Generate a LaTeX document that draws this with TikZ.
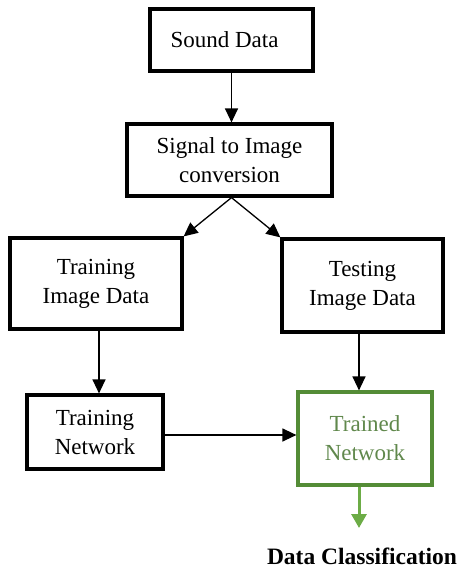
\documentclass[tikz,border=0pt]{standalone}
\usepackage{fontspec}
\setmainfont{Liberation Serif}
\usetikzlibrary{arrows.meta,calc}
\definecolor{boxgreen}{RGB}{84,140,54}
\definecolor{txtgreen}{RGB}{96,136,76}
\definecolor{arrgreen}{RGB}{108,172,70}
\begin{document}
\begin{tikzpicture}[x=1pt,y=-1pt,
  box/.style={draw=black,line width=3.2pt,inner sep=0pt,align=center,
    font=\fontsize{23}{29}\selectfont,minimum width=#1},
  conn/.style={line width=1.3pt,-{Triangle[length=14pt,width=13pt]}}]
\useasboundingbox (0,0) rectangle (461,574);
\node[box=163pt,minimum height=62pt] (sound) at (231.5,40) {Sound Data\hspace*{14pt}};
\node[box=205pt,minimum height=72pt] (signal) at (229.5,160) {Signal to Image\\conversion};
\node[box=172pt,minimum height=91pt] (trimg) at (96,283.5) {Training\\Image Data};
\node[box=161pt,minimum height=93pt] (teimg) at (362.5,285.5) {Testing\\Image Data};
\node[box=136pt,minimum height=74pt] (trnet) at (95,432) {Training\\Network};
\node[box=134pt,minimum height=93pt,draw=boxgreen,text=txtgreen] (trained) at (365,438.5) {Trained\\Network};
\node[font=\fontsize{23.5}{26}\selectfont\bfseries] (dc) at (362,556) {Data Classification};
\coordinate (tip) at (359,528);
\draw[conn] (sound.south) -- (sound.south |- signal.north);
\draw[conn] ($(signal.south)+(2,0)$) -- ($(trimg.north east)+(0,0)$);
\draw[conn] ($(signal.south)+(2,0)$) -- ($(teimg.north west)+(0,0)$);
\draw[conn] ($(trimg.south)+(3,0)$) -- ($(trnet.north)+(4,0)$);
\draw[conn] ($(teimg.south)+(-3.5,0)$) -- ($(trained.north)+(-6,0)$);
\draw[conn] ($(trnet.east)+(0,3)$) -- ($(trained.west)+(0,-3.5)$);
\draw[line width=3pt,draw=arrgreen,-{Triangle[length=14pt,width=15pt]},arrgreen] ($(trained.south)+(-6,0)$) -- (tip);
\end{tikzpicture}
\end{document}
